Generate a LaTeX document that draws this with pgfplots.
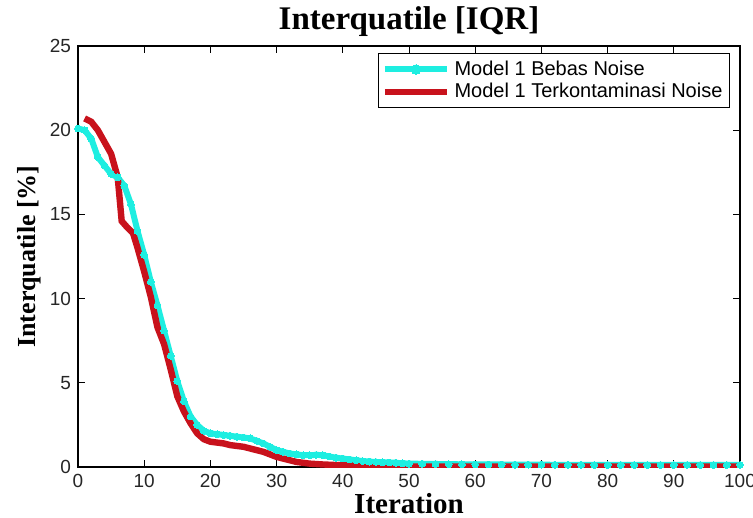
\documentclass[border=0pt]{standalone}
\usepackage{pgfplots}
\pgfplotsset{compat=1.18}
\usetikzlibrary{calc}
\usepackage{fontspec}
\setmainfont{Liberation Serif}
\setsansfont{Liberation Sans}
\definecolor{mcyan}{RGB}{30,238,225}
\definecolor{mred}{RGB}{200,18,28}
\begin{document}
\begin{tikzpicture}
\begin{axis}[
  scale only axis,
  width=331pt, height=210.5pt,
  xmin=0, xmax=100, ymin=0, ymax=25,
  xtick={0,10,...,100}, ytick={0,5,...,25},
  tick align=inside,
  tick style={black, line width=0.5pt},
  major tick length=3.5pt,
  axis line style={black, line width=0.6pt},
  tick label style={font=\sffamily\fontsize{9.5}{10}\selectfont, color=black!85},
  /pgf/number format/assume math mode=true,
  every axis title shift=0pt,
  title={\fontsize{16.5}{18}\selectfont\bfseries Interquatile [IQR]},
  title style={at={(axis description cs:0.5,1.038)}, anchor=base, inner sep=0pt},
  xlabel={\fontsize{14.5}{16}\selectfont\bfseries Iteration},
  ylabel={\fontsize{13}{15}\selectfont\bfseries Interquatile [\%]},
  xlabel style={at={(axis description cs:0.5,-0.088)}, anchor=center},
  ylabel style={at={(axis description cs:-0.074,0.5)}, anchor=center},
  legend style={at={(0.985,0.983)}, anchor=north east, draw=black, line width=0.6pt,
    font=\sffamily\fontsize{10}{10.5}\selectfont, inner sep=1.5pt, row sep=-1.5pt, cells={anchor=west}},
  legend image code/.code={
    \draw[#1, mark repeat=2, mark phase=2, mark size=2.4pt] plot coordinates {(0cm,0cm) (0.55cm,0cm) (1.1cm,0cm)};
  },
  legend cell align=left,
]
\addplot[mcyan, line width=3pt, mark=*, mark size=1.7pt, mark options={fill=mcyan, draw=mcyan, line width=0pt}] coordinates {
(0,20.1)(1,20.0)(2,19.5)(3,18.4)(4,17.9)(5,17.4)(6,17.2)(7,16.7)(8,15.6)(9,14.0)(10,12.6)(11,11.0)(12,9.6)(13,8.1)(14,6.6)(15,5.1)(16,3.9)(17,3.0)(18,2.5)(19,2.15)(20,2.0)(21,1.95)(22,1.9)(23,1.85)(24,1.8)(25,1.75)(26,1.7)(27,1.55)(28,1.4)(29,1.2)(30,1.0)(31,0.9)(32,0.8)(33,0.75)(34,0.7)(35,0.7)(36,0.72)(37,0.7)(38,0.62)(39,0.55)(40,0.5)(41,0.45)(42,0.4)(43,0.35)(44,0.32)(45,0.3)(46,0.28)(47,0.27)(48,0.25)(49,0.22)(50,0.2)(52,0.19)(54,0.18)(56,0.17)(58,0.16)(60,0.15)(62,0.15)(64,0.15)(66,0.14)(68,0.14)(70,0.14)(72,0.13)(74,0.13)(76,0.13)(78,0.12)(80,0.12)(82,0.12)(84,0.12)(86,0.12)(88,0.12)(90,0.12)(92,0.12)(94,0.12)(96,0.12)(98,0.12)(100,0.12)
};
\addlegendentry{Model 1 Bebas Noise}
\addplot[mred, line width=3.2pt] coordinates {
(1,20.7)(2,20.5)(3,20.0)(4,19.3)(5,18.6)(6,17.2)(6.6,14.6)(7.5,14.2)(8.3,13.9)(9,13.0)(10,11.6)(11,10.1)(12,8.3)(13,7.3)(14,5.8)(15,4.2)(16,3.3)(17,2.6)(18,2.0)(19,1.65)(20,1.5)(21,1.45)(22,1.4)(23,1.3)(24,1.25)(25,1.2)(26,1.1)(27,1.0)(28,0.9)(29,0.75)(30,0.6)(31,0.5)(32,0.4)(33,0.3)(34,0.25)(35,0.2)(37,0.15)(40,0.1)(45,0.05)(50,0.03)(60,0.02)(100,0.02)
};
\addlegendentry{Model 1 Terkontaminasi Noise}
\end{axis}
\pgfresetboundingbox
\path ($(current axis.south west)+(-39pt,-25.5pt)$) rectangle ($(current axis.north east)+(6.5pt,23pt)$);
\end{tikzpicture}
\end{document}
